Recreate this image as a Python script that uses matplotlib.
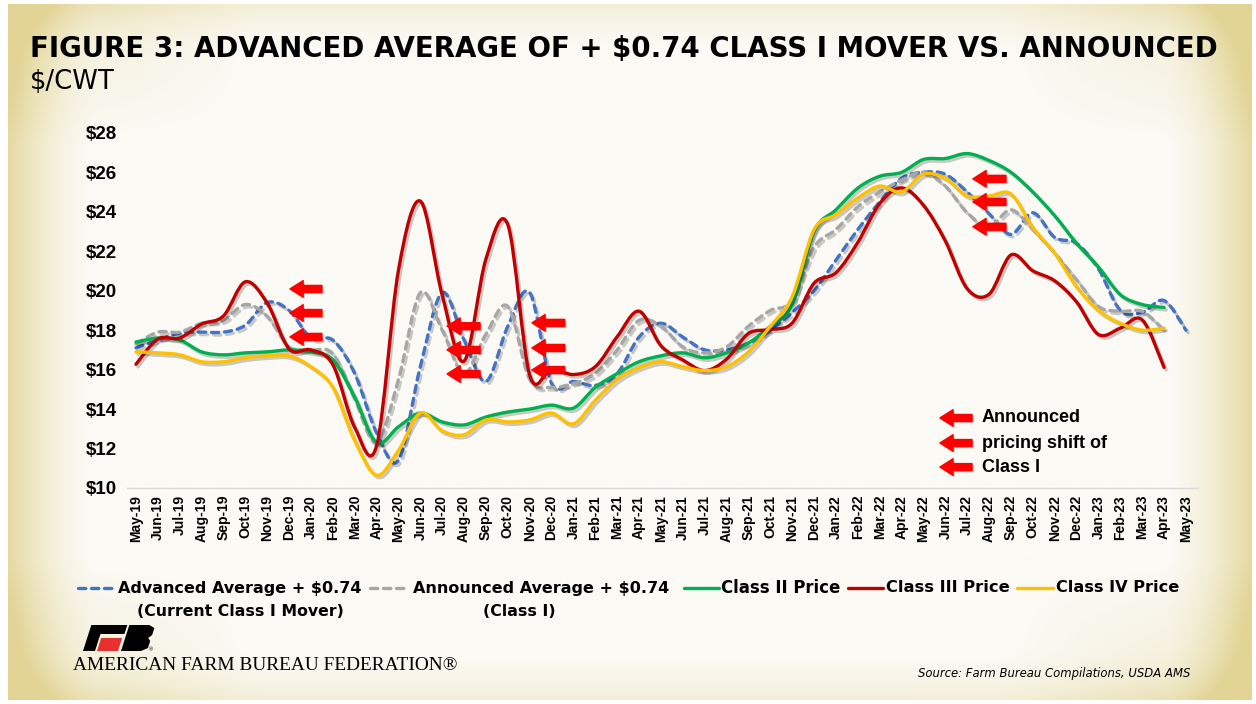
import numpy as np
import matplotlib
matplotlib.use("Agg")
import matplotlib.pyplot as plt
import matplotlib.patheffects as pe
from matplotlib.path import Path
from matplotlib.patches import PathPatch, Polygon
from matplotlib.lines import Line2D
from matplotlib import font_manager

months = ["May-19", "Jun-19", "Jul-19", "Aug-19", "Sep-19", "Oct-19", "Nov-19", "Dec-19",
          "Jan-20", "Feb-20", "Mar-20", "Apr-20", "May-20", "Jun-20", "Jul-20", "Aug-20",
          "Sep-20", "Oct-20", "Nov-20", "Dec-20", "Jan-21", "Feb-21", "Mar-21", "Apr-21",
          "May-21", "Jun-21", "Jul-21", "Aug-21", "Sep-21", "Oct-21", "Nov-21", "Dec-21",
          "Jan-22", "Feb-22", "Mar-22", "Apr-22", "May-22", "Jun-22", "Jul-22", "Aug-22",
          "Sep-22", "Oct-22", "Nov-22", "Dec-22", "Jan-23", "Feb-23", "Mar-23", "Apr-23",
          "May-23"]

advanced = [17.1, 17.5, 17.85, 17.9, 17.9, 18.25, 19.4, 19.0, 17.6, 17.5, 15.8, 12.8,
            11.4, 16.15, 19.9, 17.5, 15.4, 18.2, 19.9, 15.3, 15.4, 15.2, 15.8, 17.65,
            18.35, 17.65, 17.0, 17.0, 17.35, 18.0, 18.9, 20.0, 21.55, 23.1, 24.5, 25.7,
            26.0, 25.9, 25.0, 23.9, 22.85, 23.95, 22.7, 22.4, 21.1, 19.0, 18.9, 19.5,
            18.0]

announced = [17.3, 17.9, 17.9, 18.35, 18.5, 19.3, 18.7, 17.15, 17.0, 16.8, 14.5, 12.3,
             15.5, 19.9, 18.0, 15.8, 17.8, 19.2, 15.5, 15.1, 15.3, 15.8, 17.0, 18.5,
             18.2, 17.15, 16.85, 17.15, 18.2, 19.0, 19.5, 22.2, 23.1, 24.25, 25.0, 25.6,
             26.0, 25.3, 23.95, 23.25, 24.1, 23.1, 21.9, 20.55, 19.2, 18.95, 18.95, 18.0]

class2 = [17.4, 17.6, 17.5, 16.9, 16.75, 16.85, 16.9, 17.0, 16.9, 16.5, 14.6, 12.3,
          13.1, 13.8, 13.35, 13.2, 13.6, 13.85, 14.0, 14.2, 14.05, 15.1, 15.8, 16.4,
          16.7, 16.85, 16.6, 16.85, 17.35, 18.2, 19.3, 23.0, 24.1, 25.2, 25.8, 26.0,
          26.65, 26.7, 26.95, 26.6, 26.0, 25.0, 23.8, 22.4, 21.2, 19.8, 19.3, 19.15]

class3 = [16.27, 17.55, 17.60, 18.31, 18.72, 20.45, 19.37, 17.05, 17.00, 16.25, 13.07, 12.14,
          21.04, 24.54, 19.77, 16.43, 21.61, 23.34, 15.72, 16.04, 15.75, 16.15, 17.67, 18.96,
          17.21, 16.49, 15.95, 16.53, 17.83, 18.03, 18.36, 20.38, 20.91, 22.45, 24.42, 25.21,
          24.33, 22.52, 20.10, 19.82, 21.81, 21.01, 20.50, 19.43, 17.78, 18.10, 18.52, 16.11]

class4 = [16.9, 16.85, 16.75, 16.4, 16.4, 16.6, 16.7, 16.7, 16.15, 15.1, 12.4, 10.65,
          11.9, 13.8, 12.9, 12.7, 13.45, 13.35, 13.45, 13.8, 13.25, 14.45, 15.5, 16.1,
          16.4, 16.15, 15.95, 16.15, 16.9, 18.2, 19.7, 23.1, 23.85, 24.7, 25.3, 25.0,
          25.9, 25.7, 24.8, 24.8, 24.9, 23.2, 21.9, 20.2, 19.0, 18.35, 18.0, 18.1]

y_ticks = [10, 12, 14, 16, 18, 20, 22, 24, 26, 28]

BLUE = "#4472C4"
GRAY = "#A6A6A6"
GREEN = "#00B050"
RED = "#C00000"
YELLOW = "#FFC000"
ARROW = "#FF0000"

names = {f.name for f in font_manager.fontManager.ttflist}
NARROW = "Liberation Sans Narrow" if "Liberation Sans Narrow" in names else "DejaVu Sans"
SANS = "Liberation Sans" if "Liberation Sans" in names else "DejaVu Sans"
SERIF = "Liberation Serif" if "Liberation Serif" in names else "DejaVu Serif"

W, H = 1256, 704
fig = plt.figure(figsize=(W / 100, H / 100), dpi=100)
fig.patch.set_facecolor("white")


def px(x, y):
    return (x / W, 1 - y / H)


# parchment background, pale in the middle, yellowish tan at the edges
bg = fig.add_axes([8 / W, 4 / H, 1244 / W, 696 / H], zorder=-10)
u = np.linspace(-1, 1, 420)[None, :]
v = np.linspace(-1, 1, 240)[:, None]
a = np.clip((np.abs(u) - 0.86) / 0.14, 0, 1) ** 1.6
b = np.clip((np.abs(v) - 0.84) / 0.16, 0, 1) ** 2.0
corner = np.clip((u + 1) * 0 + ((np.abs(u) - 0.6) / 0.4).clip(0, 1) * ((np.abs(v) - 0.6) / 0.4).clip(0, 1), 0, 1)
t = np.clip(0.85 * a + 0.3 * b + 0.5 * corner, 0, 1)
center = np.array([251, 250, 245]) / 255
edge = np.array([226, 212, 148]) / 255
img = center * (1 - t[..., None]) + edge * t[..., None]
bg.imshow(img, aspect="auto", interpolation="bicubic", extent=[0, 1, 0, 1])
bg.axis("off")

ax = fig.add_axes([127 / W, 1 - 488 / H, 1071 / W, 367 / H])
ax.set_facecolor("none")
ax.set_xlim(-0.41, 48.55)
ax.set_ylim(10, 28.6)


def smooth_path(xs, ys):
    pts = np.column_stack([xs, ys]).astype(float)
    n = len(pts)
    verts = [pts[0]]
    codes = [Path.MOVETO]
    for i in range(n - 1):
        p0 = pts[max(i - 1, 0)]
        p1 = pts[i]
        p2 = pts[i + 1]
        p3 = pts[min(i + 2, n - 1)]
        verts += [p1 + (p2 - p0) / 6, p2 - (p3 - p1) / 6, p2]
        codes += [Path.CURVE4] * 3
    return Path(verts, codes)


def draw_series(vals, color, dashed=False):
    x = np.arange(len(vals))
    patch = PathPatch(smooth_path(x, vals), fill=False, edgecolor=color, lw=2.4,
                      capstyle="round", joinstyle="round", zorder=3)
    if dashed:
        patch.set_linestyle((0, (2.2, 1.7)))
    patch.set_path_effects([pe.SimpleLineShadow(offset=(1.5, -1.8), shadow_color="k", alpha=0.2),
                            pe.Normal()])
    ax.add_patch(patch)


draw_series(advanced, BLUE, dashed=True)
draw_series(announced, GRAY, dashed=True)
draw_series(class2, GREEN)
draw_series(class3, RED)
draw_series(class4, YELLOW)

for s in ["top", "right", "left"]:
    ax.spines[s].set_visible(False)
ax.spines["bottom"].set_color("#D9D9D9")
ax.spines["bottom"].set_linewidth(1)

ax.set_xticks(range(len(months)))
ax.set_xticklabels(months, rotation=90, fontsize=10, fontweight="bold", family=SANS)
ax.set_yticks(y_ticks)
ax.set_yticklabels([f"${v}" for v in y_ticks], fontsize=13.5, fontweight="bold", family=SANS)
ax.tick_params(axis="both", length=0)
ax.tick_params(axis="x", pad=5)
ax.tick_params(axis="y", pad=7)

# red arrows marking announced pricing shift
arrow_groups = [
    (7.04, 8.5, [20.09, 18.87, 17.66]),
    (14.22, 15.73, [18.2, 17.0, 15.78]),
    (18.1, 19.6, [18.37, 17.1, 15.98]),
    (38.26, 39.77, [25.67, 24.5, 23.24]),
    (36.75, 38.22, [13.55, 12.28, 11.06]),
]
for tip, tail, ys in arrow_groups:
    for yv in ys:
        ann = ax.annotate("", xy=(tip, yv), xytext=(tail, yv), zorder=5,
                          arrowprops=dict(arrowstyle="simple,head_length=0.95,head_width=1.2,tail_width=0.5",
                                          color=ARROW, shrinkA=0, shrinkB=0, mutation_scale=10))
        ann.arrow_patch.set_path_effects([pe.SimplePatchShadow(offset=(1.2, -1.2), alpha=0.25),
                                          pe.Normal()])

note_lines = ["Announced", "pricing shift of", "Class I"]
note_y = [13.55, 12.28, 11.06]
for line, yv in zip(note_lines, note_y):
    ax.text(38.67, yv, line, fontsize=13, fontweight="bold", family=SANS,
            va="center", ha="left", zorder=5)

renderer = fig.canvas.get_renderer()


def fit(txt, width_px):
    w = txt.get_window_extent(renderer).width
    txt.set_fontsize(txt.get_fontsize() * width_px / w)


title = fig.text(*px(30, 57), "FIGURE 3: ADVANCED AVERAGE OF + $0.74 CLASS I MOVER VS. ANNOUNCED",
                 fontsize=24, fontweight="heavy", family=NARROW, va="baseline", ha="left")
fit(title, 1192)
unit = fig.text(*px(30, 89), "$/CWT", fontsize=18, family=NARROW, va="baseline", ha="left")
fit(unit, 85)

# legend
legend_items = [
    (BLUE, True, 78, 117, ["Advanced Average + $0.74", "(Current Class I Mover)"], [240, 240], [245, 207]),
    (GRAY, True, 370, 406, ["Announced Average + $0.74", "(Class I)"], [541, 519], [257, 72]),
    (GREEN, False, 684, 719, ["Class II Price"], [781], [119]),
    (RED, False, 848, 883, ["Class III Price"], [948], [123]),
    (YELLOW, False, 1017, 1053, ["Class IV Price"], [1118], [123]),
]
for color, dashed, x0, x1, lines, centers, widths in legend_items:
    ln = Line2D([x0 / W, x1 / W], [1 - 588 / H, 1 - 588 / H], transform=fig.transFigure,
                color=color, lw=2.4, solid_capstyle="round", dash_capstyle="round",
                linestyle=(0, (2.2, 1.7)) if dashed else "-")
    fig.add_artist(ln)
    for k, (line, cx, wd) in enumerate(zip(lines, centers, widths)):
        tx = fig.text(*px(cx, 588 + 24 * k), line, fontsize=14, fontweight="bold",
                      family=NARROW, ha="center", va="center")
        fit(tx, wd)

# AFB logo
def skew(pts, y0=651, k=0.32):
    return [px(x + (y0 - y) * k, y) for x, y in pts]


logo_black = [
    [(83, 625), (119, 625), (119, 634), (83, 634)],
    [(83, 634), (95, 634), (95, 651), (83, 651)],
    [(121, 625), (141, 625), (147, 628), (147, 635), (144, 638), (147, 641), (147, 648),
     (141, 651), (121, 651)],
]
for poly in logo_black:
    fig.add_artist(Polygon(skew(poly), closed=True, transform=fig.transFigure,
                           facecolor="black", edgecolor="none"))
fig.add_artist(Polygon(skew([(97, 638), (118, 638), (118, 651), (97, 651)]), closed=True,
                       transform=fig.transFigure, facecolor="#E8312F", edgecolor="none"))
fig.text(*px(149, 651), "®", fontsize=4, family=SANS, ha="left", va="baseline")

afb = fig.text(*px(73, 670), "AMERICAN FARM BUREAU FEDERATION®", fontsize=12, family=SERIF,
               ha="left", va="baseline")
fit(afb, 382)

src = fig.text(*px(1190, 677), "Source: Farm Bureau Compilations, USDA AMS", fontsize=9,
               style="italic", family=NARROW, ha="right", va="baseline")
fit(src, 272)

fig.savefig("out.png", dpi=100)
